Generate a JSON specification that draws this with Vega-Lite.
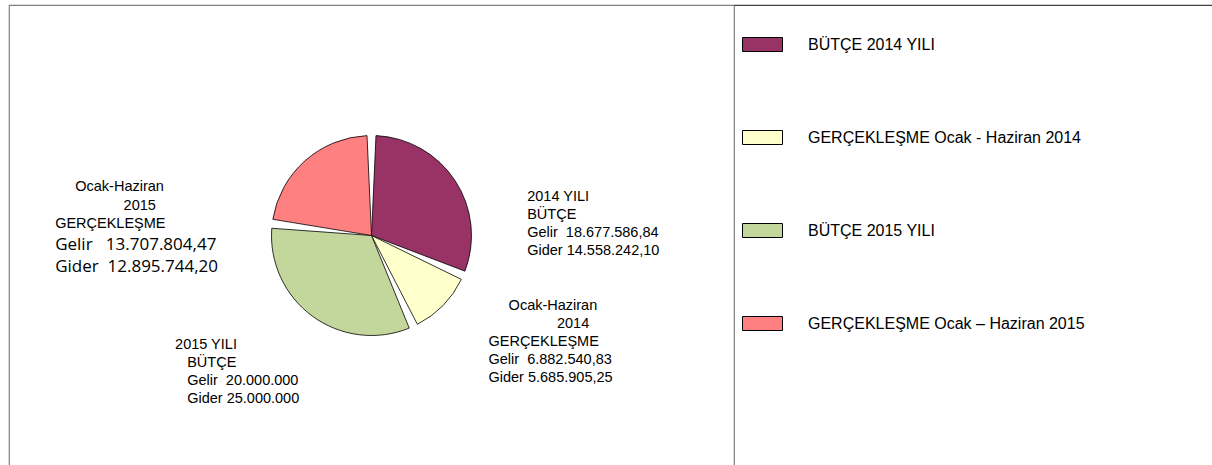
{
  "$schema": "https://vega.github.io/schema/vega-lite/v6.json",
  "padding": {"left": 8, "top": 4, "right": 0, "bottom": 0},
  "spacing": 0,
  "bounds": "flush",
  "background": "white",
  "datasets": {
    "pie": [
      {"o": 1, "cat": "BÜTÇE 2014 YILI", "gelir": 18677586.84, "gider": 14558242.10,
       "lbl": ["2014 YILI", "BÜTÇE", "Gelir\u00a0 18.677.586,84", "Gider 14.558.242,10"], "lbl2": [""]},
      {"o": 2, "cat": "GERÇEKLEŞME Ocak - Haziran 2014", "gelir": 6882540.83, "gider": 5685905.25,
       "lbl": ["\u200b\u00a0\u00a0\u00a0\u00a0\u00a0Ocak-Haziran", "\u200b\u00a0\u00a0\u00a0\u00a0\u00a0\u00a0\u00a0\u00a0\u00a0\u00a0\u00a0\u00a0\u00a0\u00a0\u00a0\u00a0\u00a02014", "GERÇEKLEŞME", "Gelir\u00a0 6.882.540,83", "Gider 5.685.905,25"], "lbl2": [""]},
      {"o": 3, "cat": "BÜTÇE 2015 YILI", "gelir": 20000000, "gider": 25000000,
       "lbl": ["2015 YILI", "\u200b\u00a0\u00a0\u00a0BÜTÇE", "\u200b\u00a0\u00a0\u00a0Gelir\u00a0 20.000.000", "\u200b\u00a0\u00a0\u00a0Gider 25.000.000"], "lbl2": [""]},
      {"o": 4, "cat": "GERÇEKLEŞME Ocak – Haziran 2015", "gelir": 13707804.47, "gider": 12895744.20,
       "lbl": ["\u200b\u00a0\u00a0\u00a0\u00a0\u00a0Ocak-Haziran", "\u200b\u00a0\u00a0\u00a0\u00a0\u00a0\u00a0\u00a0\u00a0\u00a0\u00a0\u00a0\u00a0\u00a0\u00a0\u00a0\u00a0\u00a02015", "GERÇEKLEŞME"],
       "lbl2": ["Gelir\u00a0\u00a0 13.707.804,47", "Gider\u00a0 12.895.744,20"]}
    ]
  },
  "hconcat": [
    {
      "width": 725,
      "height": 461,
      "view": {"stroke": "#808080", "strokeWidth": 1.2, "strokeDash": [1186, 725, 461]},
      "data": {"name": "pie"},
      "encoding": {
        "theta": {"field": "gelir", "type": "quantitative", "stack": true},
        "order": {"field": "o", "type": "quantitative"}
      },
      "layer": [
        {
          "mark": {"type": "arc", "outerRadius": 100, "padAngle": 0.09, "stroke": "black", "strokeWidth": 0.8},
          "encoding": {
            "color": {
              "field": "cat", "type": "nominal", "sort": null,
              "scale": {
                "domain": ["BÜTÇE 2014 YILI", "GERÇEKLEŞME Ocak - Haziran 2014", "BÜTÇE 2015 YILI", "GERÇEKLEŞME Ocak – Haziran 2015"],
                "range": ["#993366", "#FFFFCC", "#C3D69B", "#FF8080"]
              },
              "legend": {
                "orient": "none", "legendX": 733, "legendY": 19, "title": null, "padding": 0,
                "symbolType": "M-1,-0.35H1V0.35H-1Z", "symbolSize": 1600,
                "symbolStrokeColor": "black", "symbolStrokeWidth": 1, "symbolOpacity": 1,
                "labelFont": "Liberation Sans", "labelFontSize": 16, "labelColor": "black",
                "labelOffset": 25, "rowPadding": 63, "labelLimit": 450
              }
            }
          }
        },
        {
          "mark": {"type": "text", "radius": 130, "align": "left", "baseline": "alphabetic", "dx": 47, "dy": 37, "font": "Liberation Sans", "fontSize": 14.5, "lineHeight": 18, "color": "black"},
          "encoding": {"text": {"condition": {"test": "datum.o === 1", "field": "lbl"}, "value": ""}}
        },
        {
          "mark": {"type": "text", "radius": 130, "align": "left", "baseline": "alphabetic", "dx": 24, "dy": -16, "font": "Liberation Sans", "fontSize": 14.5, "lineHeight": 18, "color": "black"},
          "encoding": {"text": {"condition": {"test": "datum.o === 2", "field": "lbl"}, "value": ""}}
        },
        {
          "mark": {"type": "text", "radius": 130, "align": "left", "baseline": "alphabetic", "dx": -120, "dy": 8, "font": "Liberation Sans", "fontSize": 14.5, "lineHeight": 18, "color": "black"},
          "encoding": {"text": {"condition": {"test": "datum.o === 3", "field": "lbl"}, "value": ""}}
        },
        {
          "mark": {"type": "text", "radius": 130, "align": "left", "baseline": "alphabetic", "dx": -230, "dy": 53, "font": "Liberation Sans", "fontSize": 14.5, "lineHeight": 18.5, "color": "black"},
          "encoding": {"text": {"condition": {"test": "datum.o === 4", "field": "lbl"}, "value": ""}}
        },
        {
          "mark": {"type": "text", "radius": 130, "align": "left", "baseline": "alphabetic", "dx": -230, "dy": 112, "font": "Open Sans", "fontSize": 17, "lineHeight": 22, "color": "black"},
          "encoding": {"text": {"condition": {"test": "datum.o === 4", "field": "lbl2"}, "value": ""}}
        }
      ]
    },
    {
      "width": 479,
      "height": 461,
      "view": {"stroke": "#404040", "strokeWidth": 1.2, "strokeDash": [479, 2000]},
      "data": {"values": [{"t": ""}]},
      "mark": {"type": "text"},
      "encoding": {"text": {"field": "t"}}
    }
  ]
}
